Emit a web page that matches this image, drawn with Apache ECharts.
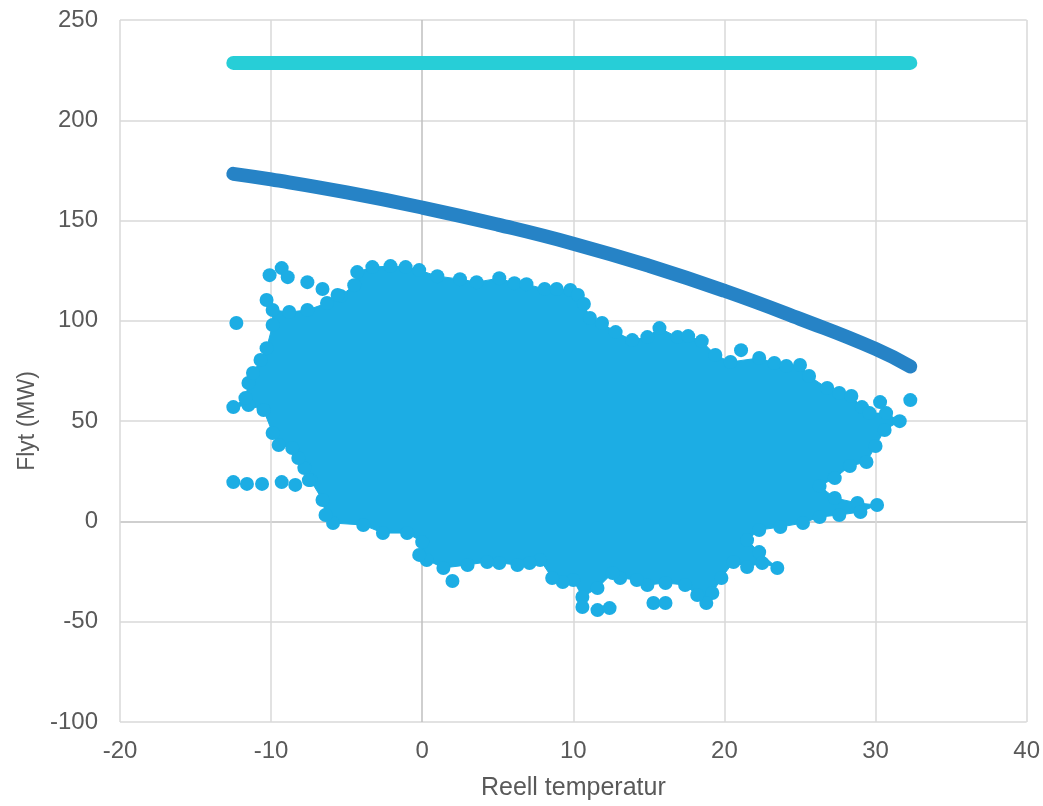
<!DOCTYPE html>
<html><head><meta charset="utf-8">
<script src="https://cdn.jsdelivr.net/npm/echarts@6/dist/echarts.min.js"></script>
<style>html,body{margin:0;padding:0;background:#fff}#chart{width:1043px;height:806px}</style>
</head><body><div id="chart"></div>
<script>
// Axis ticks
const xTicks = [-20, -10, 0, 10, 20, 30, 40];
const yTicks = [-100, -50, 0, 50, 100, 150, 200, 250];

// Upper limit (flat line)
const limitTemp = [-12.5, 32.3];
const limitFlow = [228.6, 228.6];

// Temperature-dependent capacity curve
const capacityTemp = [-12.5, -10, -5, 0, 5, 10, 15, 20, 25, 30, 32.3];
const capacityFlow = [173.3, 170.5, 164, 156.5, 148, 138.5, 127.5, 115, 101, 86, 77.2];

// Measured flow cloud: outline points (in order) of the dense region
const cloudEdge = [
  [-4.3,124.3],[-3.3,126.8],[-2.1,127.3],[-1.1,126.8],[-0.2,125.3],[1.0,122.3],[2.5,120.8],[3.6,119.3],
  [5.1,121.3],[6.1,118.8],[6.9,118.3],[8.1,115.9],[8.9,115.9],[9.8,115.4],[10.3,112.9],[10.7,108.4],
  [11.1,101.4],[11.9,98.9],[12.8,94.4],[13.9,90.4],[14.9,91.9],[15.7,96.4],[16.9,91.9],[17.6,92.4],
  [18.5,89.9],[19.4,83.0],[20.4,79.5],[22.3,81.5],[23.3,79.0],[24.1,77.5],[25.0,78.0],[25.6,72.5],
  [26.8,66.5],[27.6,64.0],[28.4,62.5],[29.1,57.0],[29.6,54.0],[30.7,54.0],[31.6,50.0],[30.6,45.6],
  [30.0,37.6],[29.4,29.6],[28.3,27.6],[27.3,21.6],[26.3,17.7],[27.3,11.7],[28.8,9.2],[30.1,8.2],
  [29.0,4.7],[27.6,3.2],[26.3,2.2],[25.2,-0.8],[23.7,-2.8],[22.3,-4.3],[21.5,-9.3],[22.3,-15.3],
  [23.5,-23.2],[22.5,-20.7],[21.5,-22.7],[20.6,-20.2],[19.8,-28.2],[19.2,-35.7],[18.8,-40.7],[18.2,-36.7],
  [17.4,-31.7],[16.1,-30.7],[14.9,-31.7],[14.2,-29.2],[13.1,-28.2],[12.6,-25.7],[11.6,-33.2],[10.6,-37.7],
  [10.0,-29.2],[9.3,-30.2],[8.6,-28.2],[7.8,-19.2],[7.1,-20.7],[6.3,-21.7],[5.1,-20.7],[4.3,-20.2],
  [3.0,-21.7],[1.4,-23.2],[0.3,-19.2],[-0.2,-16.7],[0.0,-10.3],[-1.0,-5.8],[-2.6,-5.8],[-3.9,-1.8],
  [-5.9,-0.8],[-6.4,3.2],[-6.6,10.7],[-7.4,20.6],[-7.8,26.6],[-8.2,31.6],[-8.6,36.6],[-9.5,38.1],
  [-9.9,44.1],[-10.5,55.5],[-11.5,58.0],[-12.5,57.0],[-11.7,61.5],[-11.5,69.0],[-11.2,74.0],[-10.7,80.5],
  [-10.3,86.4],[-9.9,97.9],[-9.9,105.4],[-8.8,104.4],[-7.6,105.4],[-6.3,108.9],[-5.4,112.4],[-4.5,117.8]
];
// Measured flow: isolated points outside the dense region
const cloudOutliers = [
  [-12.3,98.9],[-10.1,122.8],[-9.3,126.3],[-8.9,121.8],[-7.6,119.3],[-6.6,115.9],[-5.6,112.9],[-10.3,110.4],
  [-12.5,19.6],[-11.6,18.7],[-10.6,18.7],[-9.3,19.6],[-8.4,18.2],[-7.5,20.6],
  [2.0,-29.7],[10.6,-42.7],[11.6,-44.2],[12.4,-43.2],[15.3,-40.7],[16.1,-40.7],
  [21.1,85.4],[30.3,59.5],[32.3,60.5]
];

const C_CLOUD = '#1CADE4', C_CAP = '#2683C6', C_LIM = '#27CED7';
const LIGHT = '#d9d9d9', DARK = '#bfbfbf';
const FONT = "'Liberation Sans', Arial, sans-serif";

const chart = echarts.init(document.getElementById('chart'), null, {renderer: 'canvas'});
chart.setOption({
  animation: false,
  backgroundColor: '#fff',
  grid: {left: 120, right: 16, top: 20, bottom: 84},
  xAxis: {
    type: 'value', min: xTicks[0], max: xTicks[xTicks.length - 1], interval: 10,
    name: 'Reell temperatur', nameLocation: 'middle', nameGap: 54,
    nameTextStyle: {color: '#595959', fontSize: 25, fontFamily: FONT},
    axisLine: {show: false, onZero: false}, axisTick: {show: false},
    axisLabel: {color: '#595959', fontSize: 24, fontFamily: FONT, margin: 17},
    splitLine: {show: true, lineStyle: {color: xTicks.map(v => v === 0 ? DARK : LIGHT), width: 1.5}}
  },
  yAxis: {
    type: 'value', min: yTicks[0], max: yTicks[yTicks.length - 1], interval: 50,
    name: 'Flyt (MW)', nameLocation: 'middle', nameGap: 77, nameRotate: 90,
    nameTextStyle: {color: '#595959', fontSize: 23, fontFamily: FONT, padding: [0, 100, 0, 0]},
    axisLine: {show: false, onZero: false}, axisTick: {show: false},
    axisLabel: {color: '#595959', fontSize: 24, fontFamily: FONT, margin: 22},
    splitLine: {show: true, lineStyle: {color: yTicks.map(v => v === 0 ? DARK : LIGHT), width: 1.5}}
  },
  series: [
    {
      type: 'custom', z: 2, silent: true,
      data: [[0, 0]],
      renderItem: function (params, api) {
        return {
          type: 'polygon',
          shape: {points: cloudEdge.map(p => api.coord(p))},
          style: {fill: C_CLOUD, stroke: C_CLOUD, lineWidth: 1}
        };
      }
    },
    {
      type: 'scatter', z: 3, symbol: 'circle', symbolSize: 14,
      itemStyle: {color: C_CLOUD, opacity: 1},
      data: cloudEdge.concat(cloudOutliers)
    },
    {
      type: 'line', z: 4, smooth: true, showSymbol: false, symbol: 'none',
      lineStyle: {color: C_CAP, width: 14, cap: 'round', join: 'round'},
      data: capacityTemp.map((t, i) => [t, capacityFlow[i]])
    },
    {
      type: 'line', z: 4, showSymbol: false, symbol: 'none',
      lineStyle: {color: C_LIM, width: 14, cap: 'round'},
      data: limitTemp.map((t, i) => [t, limitFlow[i]])
    }
  ]
});
</script>
</body></html>
